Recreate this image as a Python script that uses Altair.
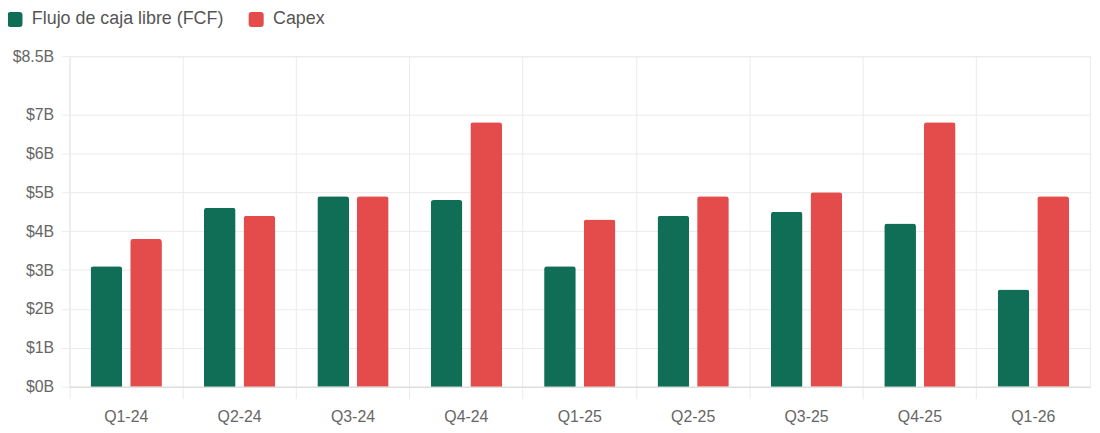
import altair as alt
import pandas as pd

quarters = ["Q1-24", "Q2-24", "Q3-24", "Q4-24", "Q1-25", "Q2-25", "Q3-25", "Q4-25", "Q1-26"]
fcf = [3.1, 4.6, 4.9, 4.8, 3.1, 4.4, 4.5, 4.2, 2.5]
capex = [3.8, 4.4, 4.9, 6.8, 4.3, 4.9, 5.0, 6.8, 4.9]
series = ["Flujo de caja libre (FCF)", "Capex"]
colors = ["#116e56", "#e34c4b"]
y_ticks = [0, 1, 2, 3, 4, 5, 6, 7, 8.5]

rows = []
for q, f, c in zip(quarters, fcf, capex):
    rows.append({"q": q, "s": series[0], "v": f})
    rows.append({"q": q, "s": series[1], "v": c})
df = pd.DataFrame(rows)

FONT = "Liberation Sans"
rounded = "M-0.6,-1 L0.6,-1 Q1,-1 1,-0.6 L1,0.6 Q1,1 0.6,1 L-0.6,1 Q-1,1 -1,0.6 L-1,-0.6 Q-1,-1 -0.6,-1 Z"

chart = alt.Chart(df).mark_bar(cornerRadiusTopLeft=3, cornerRadiusTopRight=3).encode(
    x=alt.X("q:N", sort=quarters, title=None,
            scale=alt.Scale(paddingInner=0, paddingOuter=0),
            axis=alt.Axis(bandPosition=0, labelOffset=0, labelAngle=0, grid=True,
                          gridColor="#ebebeb", tickColor="#ebebeb", tickSize=12,
                          domainColor="#d9d9d9", labelColor="#666666", labelFontSize=16,
                          labelFont=FONT, labelPadding=10)),
    xOffset=alt.XOffset("s:N", sort=series,
                        scale=alt.Scale(paddingInner=0.2, paddingOuter=0.53)),
    y=alt.Y("v:Q", title=None,
            scale=alt.Scale(domain=[0, 8.5], nice=False),
            axis=alt.Axis(values=y_ticks, labelExpr="'$' + datum.value + 'B'",
                          gridColor="#ebebeb", tickColor="#ebebeb", tickSize=8,
                          domainColor="#ebebeb", labelColor="#666666", labelFontSize=16,
                          labelFont=FONT, labelPadding=8)),
    color=alt.Color("s:N", sort=series,
                    scale=alt.Scale(domain=series, range=colors),
                    legend=alt.Legend(title=None, orient="none", legendX=-64, legendY=-46,
                                      direction="horizontal", symbolType=rounded,
                                      symbolSize=230, symbolStrokeWidth=0, labelLimit=0,
                                      labelFont=FONT, labelFontSize=18, labelColor="#555555",
                                      columnPadding=23, labelOffset=8, padding=0)),
).properties(
    width=1028, height=333,
    autosize=alt.AutoSizeParams(type="none"),
    padding={"left": 62, "top": 47, "right": 2, "bottom": 37},
).configure_view(stroke="#ebebeb")

chart.save("out.html", embed_options={"renderer": "svg", "actions": False})
